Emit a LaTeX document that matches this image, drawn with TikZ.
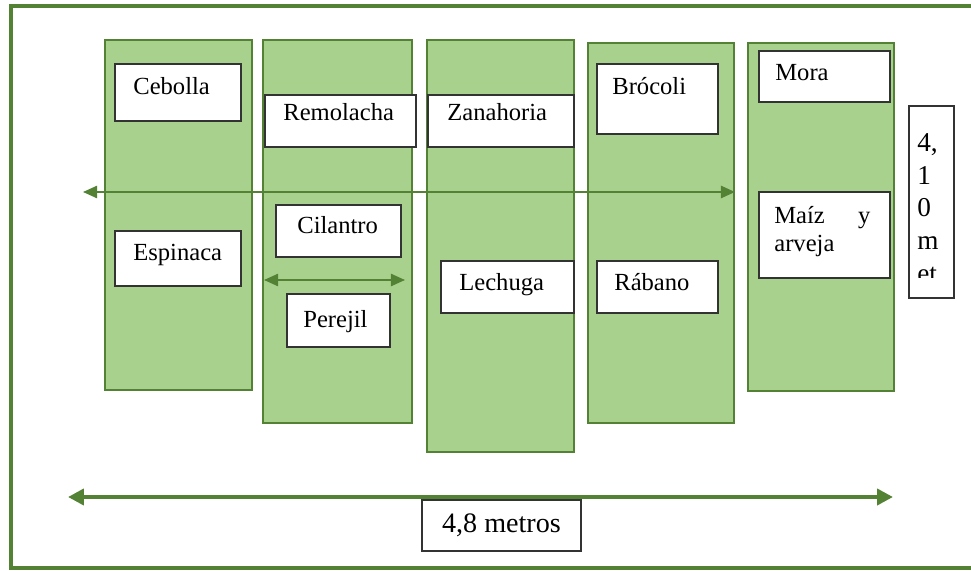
\documentclass[tikz,border=0pt]{standalone}
\usepackage{fontspec}
\setmainfont{Liberation Serif}
\usetikzlibrary{arrows.meta}
\definecolor{verdeClaro}{HTML}{A9D18E}
\definecolor{verdeOscuro}{HTML}{548235}

\begin{document}
\begin{tikzpicture}[x=0.02cm, y=-0.02cm,
    bancal/.style={draw=verdeOscuro, fill=verdeClaro, line width=0.9pt},
    caja/.style={draw=black!80, fill=white, line width=1.1pt, anchor=north west, inner sep=0pt},
    rotulo/.style={anchor=base west, inner sep=0pt, font=\fontsize{14}{16}\selectfont},
    cota/.style={draw=verdeOscuro, line width=0.9pt, {Triangle[length=8pt,width=7pt]}-{Triangle[length=8pt,width=7pt]}},
    cotagruesa/.style={draw=verdeOscuro, line width=2.3pt, {Triangle[length=9pt,width=9pt]}-{Triangle[length=9pt,width=9pt]}}]
    \useasboundingbox (0,0) rectangle (971,571);

    % 外框
    \draw[verdeOscuro, line width=2.3pt] (11,6) rectangle (990,568);

    % 五个菜畦
    \draw[bancal] (105,40) rectangle (252,390);
    \draw[bancal] (263,40) rectangle (412,423);
    \draw[bancal] (427,40) rectangle (574,452);
    \draw[bancal] (588,43) rectangle (734,423);
    \draw[bancal] (748,43) rectangle (894,391);

    % 尺寸箭头
    \coordinate (largoI) at (83,192);
    \coordinate (largoD) at (735,192);
    \draw[cota] (largoI) -- (largoD);
    \coordinate (cortoI) at (264,280);
    \coordinate (cortoD) at (405,280);
    \draw[cota] (cortoI) -- (cortoD);

    % 各种蔬菜的方框
    \foreach \n/\x/\y/\w/\h in {ceb/114/63/126/57, rem/264/94/151/52, zan/427/94/146/52,
        bro/596/63/121/70, mor/758/50/131/51, esp/114/230/126/55, cil/275/204/125/52,
        per/286/293/103/53, lec/440/260/133/52, rab/596/260/121/52, mai/758/191/131/86}
        \node[caja, minimum width=\w*0.02cm, minimum height=\h*0.02cm] (\n) at (\x,\y) {};

    \node[rotulo] (cebT) at (133,95) {Cebolla};
    \node[rotulo] (remT) at (283,121) {Remolacha};
    \node[rotulo] (zanT) at (447,121) {Zanahoria};
    \node[rotulo] (broT) at (612,95) {Brócoli};
    \node[rotulo] (morT) at (775,81) {Mora};
    \node[rotulo] (espT) at (133,260) {Espinaca};
    \node[rotulo] (cilT) at (297,234) {Cilantro};
    \node[rotulo] (perT) at (303,327) {Perejil};
    \node[rotulo] (lecT) at (459,290) {Lechuga};
    \node[rotulo] (rabT) at (614,290) {Rábano};
    \node[rotulo, anchor=north west, text width=96*0.02cm, align=left,
        font=\fontsize{14}{15.9}\selectfont] (maiT) at (774,206) {Maíz\hfill y\\arveja};

    % 右侧竖排的宽度
    \node[caja, minimum width=45*0.02cm, minimum height=192*0.02cm] (alto) at (908,105) {};
    \begin{scope}
        \clip (909,106) rectangle (952,277);
        \node[anchor=north west, inner sep=0pt, align=left,
            font=\fontsize{15.5}{18.7}\selectfont] (altoT) at (917,133) {4,\\1\\0\\m\\et};
    \end{scope}

    % 底部的长度
    \node[caja, minimum width=159*0.02cm, minimum height=51*0.02cm,
        font=\fontsize{16}{19}\selectfont] (ancho) at (421,499) {4,8 metros};
    \coordinate (anchoI) at (68,497);
    \coordinate (anchoD) at (893,497);
    \draw[cotagruesa] (anchoI) -- (anchoD);
\end{tikzpicture}
\end{document}
